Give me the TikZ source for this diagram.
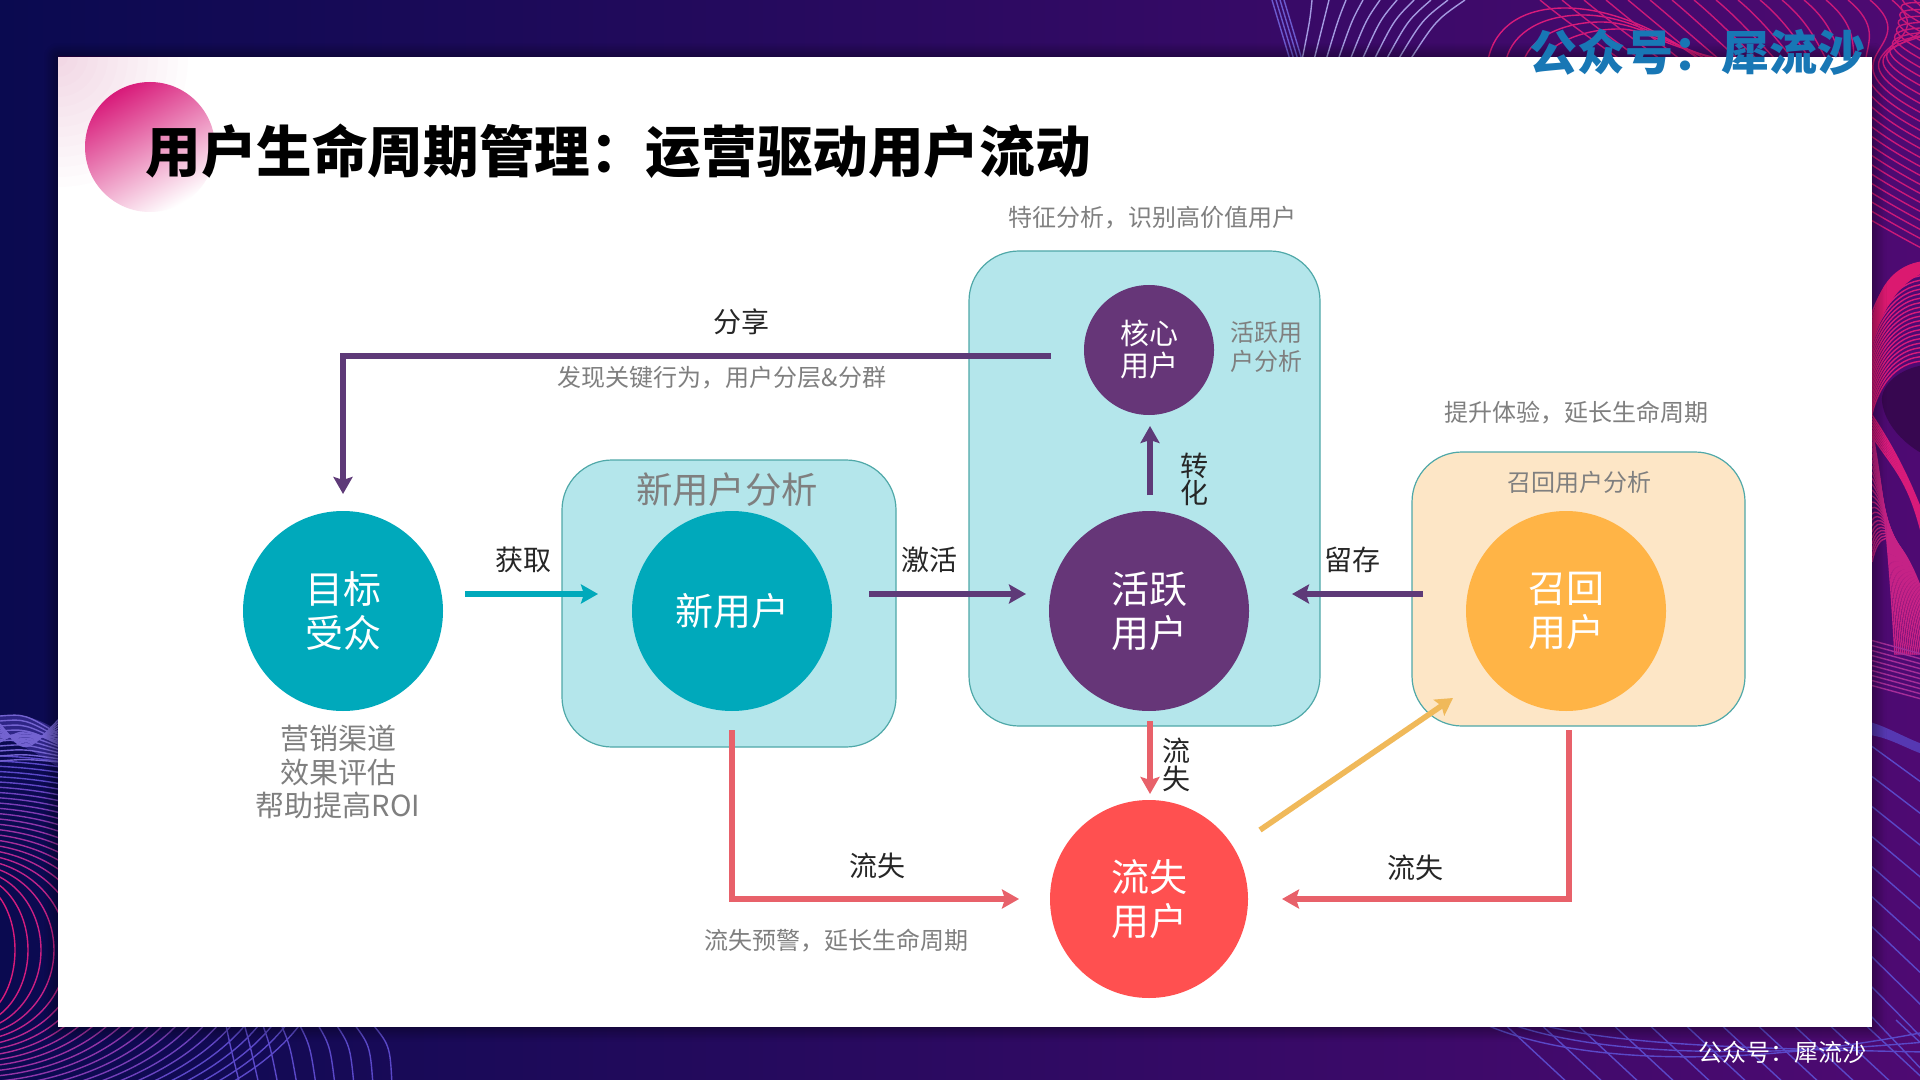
\documentclass[tikz,border=0pt]{standalone}
\usepackage{fontspec}
\setmainfont{Noto Sans CJK SC}
\usetikzlibrary{arrows.meta,shadows.blur}
\definecolor{navy}{HTML}{0A0A50}
\definecolor{purp}{HTML}{3A0860}
\definecolor{purq}{HTML}{4E0A72}
\definecolor{pinkl}{HTML}{D81B7A}
\definecolor{viol}{HTML}{5A48C8}
\definecolor{teal1}{HTML}{00A9BB}
\definecolor{plum}{HTML}{663678}
\definecolor{plumline}{HTML}{5E3A78}
\definecolor{redc}{HTML}{FF5050}
\definecolor{redl}{HTML}{E8616A}
\definecolor{orng}{HTML}{FFB446}
\definecolor{yline}{HTML}{F0B95A}
\definecolor{boxc}{HTML}{B4E6EB}
\definecolor{boxe}{HTML}{4FA8A8}
\definecolor{boxo}{HTML}{FDE6C6}
\definecolor{gtxt}{HTML}{7F7F7F}
\definecolor{wmark}{HTML}{1877B5}
\tikzset{
 ucircle/.style={circle,inner sep=0pt,text=white,align=center,font=\fontsize{19}{22}\selectfont},
 panel/.style={rounded corners=25pt,draw=boxe,line width=0.6pt},
 conn/.style={line width=2.8pt,-{Stealth[length=8.5pt,width=9.5pt,inset=1.5pt]}},
 lab/.style={font=\fontsize{14}{16}\selectfont,text=black!85,inner sep=0pt},
 note/.style={font=\fontsize{12}{14.5}\selectfont,text=gtxt,inner sep=0pt,align=center},
 bgline/.style={line width=0.7pt},
}
\begin{document}
\begin{tikzpicture}[x=0.5pt,y=-0.5pt]
\useasboundingbox (0,0) rectangle (1920,1080);
% background
\fill[left color=navy,middle color=purp,right color=purq] (0,0) rectangle (1920,1080);
\begin{scope}
\clip (0,0) rectangle (1920,1080);
% lower-left contours
\foreach \i in {0,...,24}{
 \pgfmathtruncatemacro{\pc}{max(0,100-\i*5)}
 \colorlet{cc}{pinkl!\pc!viol}
 \pgfmathsetmacro{\rx}{45+\i*13}
 \pgfmathsetmacro{\ry}{70+\i*5.2}
 \draw[bgline,cc] (-30,950) ellipse [x radius=\rx,y radius=\ry];
}
\fill[viol,opacity=.45] (0,716) .. controls (25,712) and (45,722) .. (60,732) -- (60,768) .. controls (40,756) and (20,742) .. (0,738) -- cycle;
\foreach \i in {0,...,9}{
 \draw[bgline,viol!85!white] (0,716+\i*5) .. controls (25,714+\i*5) .. (60,735+\i*3);
 \draw[bgline,viol!85!white] (0,742-\i*2) .. controls (25,728+\i*3) .. (60,745-\i*3);
}
\foreach \i in {0,...,8}{
 \draw[bgline,viol] (225+\i*18,1020) .. controls (230+\i*20,1045) .. (240+\i*19,1085);
}
% upper-right lines
\foreach \i in {0,...,3}{
 \draw[bgline,viol!90!white] (1272+\i*4,0) -- (1290+\i*4,60);
}
\foreach \i in {0,...,9}{
 \draw[bgline,viol!55!white] (1312+\i*17,0) .. controls (1310+\i*14,20) .. (1302+\i*12,60);
}
\foreach \i in {0,...,3}{
 \draw[bgline,pinkl] (1488+\i*18,60) .. controls (1495+\i*18,25+\i*7) and (1525+\i*18,8+\i*7) .. (1565+\i*18,8+\i*7) .. controls (1610+\i*12,8+\i*7) and (1660,30+\i*5) .. (1700+\i*8,60);
}
\foreach \i in {0,...,26}{
 \pgfmathsetmacro{\xa}{1540+\i*22}
 \pgfmathsetmacro{\ya}{250-\i*9}
 \draw[bgline,pinkl!90!purq] (\xa,0) .. controls (\xa+60,50) and (1810,\ya-60) .. (1925,\ya);
}
% right ring
\foreach \i in {0,...,22}{
 \draw[bgline,pinkl] (1868,330+\i*5) .. controls (1872,300+\i*4) and (1895,262+\i*4.5) .. (1925,262+\i*4.5);
 \draw[bgline,pinkl!85!viol] (1872,430+\i*6) .. controls (1885,500) and (1890+\i*1.5,570) .. (1895+\i*2,655);
}
\fill[pinkl!92!red] (1925,262) .. controls (1895,262) and (1873,290) .. (1872,330) -- (1872,345) .. controls (1885,300) and (1905,280) .. (1925,272) -- cycle;
\fill[purq!70!black] (1925,365) .. controls (1900,368) and (1880,385) .. (1882,402) .. controls (1885,425) and (1905,445) .. (1925,455) -- cycle;
\foreach \i in {0,...,7}{
 \draw[bgline,pinkl] (1872,415+\i*3) .. controls (1895,450+\i*3) and (1910,480) .. (1925,520+\i*4);
}
% lower-right lines
\foreach \i in {0,...,9}{
 \draw[bgline,pinkl!60!viol] (1870,640+\i*5) -- (1925,655+\i*5);
 \draw[bgline,viol] (1870,745+\i*30) -- (1925,785+\i*32);
}
\fill[viol,opacity=.75] (1870,722) .. controls (1890,728) and (1905,738) .. (1925,745) -- (1925,755) .. controls (1905,748) and (1890,738) .. (1870,735) -- cycle;
\foreach \i in {0,...,11}{
 \draw[bgline,viol] (1500+\i*36,1020) -- (1570+\i*36,1085);
}
\foreach \i in {0,...,2}{
 \draw[bgline,viol] (1480+\i*25,1022) .. controls (1560+\i*25,1060-\i*8) and (1720,1072-\i*12) .. (1925,1032+\i*10);
}
\end{scope}
% card
\fill[white,blur shadow={shadow blur steps=10,shadow xshift=0pt,shadow yshift=0pt,shadow opacity=65,shadow blur radius=7pt}] (58,57) rectangle (1872,1027);
% corner glow
\begin{scope}
\clip (58,57) rectangle (300,300);
\foreach \r in {10,20,...,130}{
 \fill[magenta,opacity=.012] (58,57) circle (\r);
}
\end{scope}
% title disc
\shade[left color=pinkl,middle color=black!10!violet!45!white,right color=white,shading angle=30] (150,147) circle (65);
\node[font=\bfseries\fontsize{27.8}{32}\selectfont,text=black,anchor=west,inner sep=0pt] (title) at (145,151) {用户生命周期管理：运营驱动用户流动};
% watermarks
\node[font=\bfseries\fontsize{24}{26}\selectfont,text=wmark,anchor=east,inner sep=0pt] (wm1) at (1866,52) {公众号：犀流沙};
\node[font=\fontsize{12}{13}\selectfont,text=white!85,anchor=east,inner sep=0pt] (wm2) at (1867,1052) {公众号：犀流沙};
% panels
\fill[boxc,panel] (562,460) rectangle (896,747);
\fill[boxc,panel] (969,251) rectangle (1320,726);
\fill[boxo,panel] (1412,452) rectangle (1745,726);
% circles
\node[ucircle,fill=teal1,minimum size=100pt] (target) at (343,611) {目标\\受众};
\node[ucircle,fill=teal1,minimum size=100pt] (newu) at (732,611) {新用户};
\node[ucircle,fill=plum,minimum size=100pt] (active) at (1149,611) {活跃\\用户};
\node[ucircle,fill=orng,minimum size=100pt] (recall) at (1566,611) {召回\\用户};
\node[ucircle,fill=redc,minimum size=99pt] (lost) at (1149,899) {流失\\用户};
\node[ucircle,fill=plum,minimum size=65pt,font=\fontsize{14.5}{16}\selectfont] (core) at (1149,350) {核心\\用户};
% connector coordinates
\coordinate (a1) at (465,594); \coordinate (a2) at (598,594);
\coordinate (b1) at (869,594); \coordinate (b2) at (1026,594);
\coordinate (c1) at (1423,594); \coordinate (c2) at (1292,594);
\coordinate (d1) at (1150,495); \coordinate (d2) at (1150,426);
\coordinate (e1) at (1150,721); \coordinate (e2) at (1150,794);
\coordinate (f1) at (1051,356); \coordinate (f2) at (343,356); \coordinate (f3) at (343,494);
\coordinate (g1) at (732,730); \coordinate (g2) at (732,899); \coordinate (g3) at (1019,899);
\coordinate (h1) at (1569,730); \coordinate (h2) at (1569,899); \coordinate (h3) at (1282,899);
\coordinate (i1) at (1260,830); \coordinate (i2) at (1453,698);
\draw[conn,teal1] (a1) -- (a2);
\draw[conn,plumline] (b1) -- (b2);
\draw[conn,plumline] (c1) -- (c2);
\draw[conn,plumline] (d1) -- (d2);
\draw[conn,redl] (e1) -- (e2);
\draw[conn,plumline,line join=miter] (f1) -- (f2) -- (f3);
\draw[conn,redl,line join=miter] (g1) -- (g2) -- (g3);
\draw[conn,redl,line join=miter] (h1) -- (h2) -- (h3);
\draw[conn,yline] (i1) -- (i2);
% labels
\node[lab] (l1) at (523,560) {获取};
\node[lab] (l2) at (929,560) {激活};
\node[lab] (l3) at (1352,560) {留存};
\node[lab] (l4) at (741,322) {分享};
\node[lab] (l5) at (877,866) {流失};
\node[lab] (l6) at (1415,868) {流失};
\node[lab,align=center,font=\fontsize{14}{13.6}\selectfont] (l7) at (1194,479) {转\\化};
\node[lab,align=center,font=\fontsize{14}{14}\selectfont] (l8) at (1176,765) {流\\失};
% notes
\node[note] (n1) at (1152,218) {特征分析，识别高价值用户};
\node[note] (n2) at (1266,347) {活跃用\\户分析};
\node[note] (n3) at (722,378) {发现关键行为，用户分层\&分群};
\node[note] (n4) at (1576,413) {提升体验，延长生命周期};
\node[note] (n5) at (1579,482) {召回用户分析};
\node[note] (n6) at (836,941) {流失预警，延长生命周期};
\node[note,font=\fontsize{18.2}{20}\selectfont] (n7) at (727,490) {新用户分析};
\node[note,font=\fontsize{14.5}{16.8}\selectfont] (n8) at (338,772) {营销渠道\\效果评估\\帮助提高ROI};
\end{tikzpicture}
\end{document}
